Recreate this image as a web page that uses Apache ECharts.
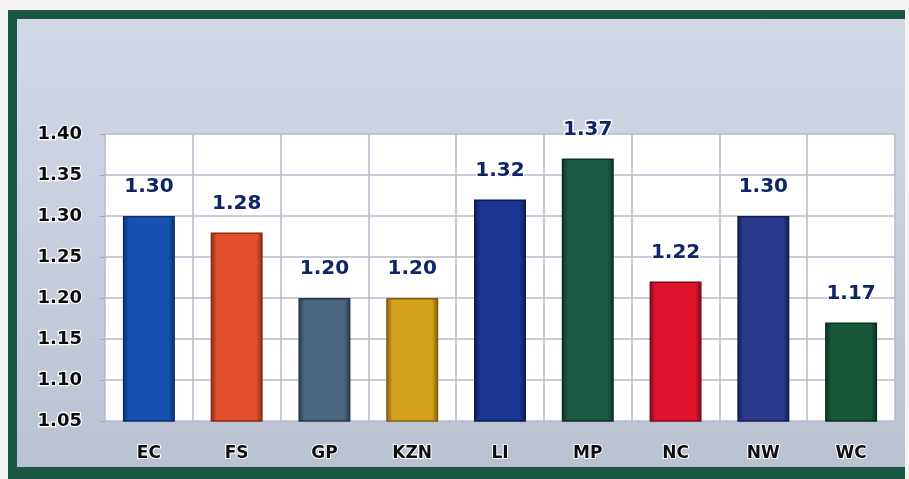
<!DOCTYPE html>
<html>
<head>
<meta charset="utf-8">
<script src="https://cdn.jsdelivr.net/npm/echarts@6/dist/echarts.min.js"></script>
<style>
  html, body { margin: 0; padding: 0; background: #f4f4f2; }
  #frame {
    position: absolute; left: 8px; top: 10px; width: 888px; height: 448px;
    border-left: 9px solid #1b5743; border-top: 9px solid #1b5743; border-bottom: 12px solid #1b5743;
    background: linear-gradient(180deg, #d3d8e6 0%, #c9cfdf 45%, #bac2d2 100%);
  }
  #chart { position: absolute; left: 0; top: 0; width: 909px; height: 479px; }
</style>
</head>
<body>
<div id="frame"></div>
<div id="chart"></div>
<script>
// Provinces and their values
const categories = ['EC', 'FS', 'GP', 'KZN', 'LI', 'MP', 'NC', 'NW', 'WC'];
const values = [1.30, 1.28, 1.20, 1.20, 1.32, 1.37, 1.22, 1.30, 1.17];
const barColors = ['#1652b2', '#e24f2b', '#4b6782', '#d3a11e', '#1b3592', '#1d5a46', '#e0142e', '#2b3a8c', '#16573a'];
const barEdges = ['#0c2f6e', '#8a2a14', '#26384a', '#7d5e0c', '#0c1c55', '#0c3024', '#7e0a18', '#141d52', '#0a3020'];
const yTicks = [1.05, 1.10, 1.15, 1.20, 1.25, 1.30, 1.35, 1.40];

const chart = echarts.init(document.getElementById('chart'), null, { renderer: 'canvas' });

const data = values.map((v, i) => ({
  value: v,
  itemStyle: {
    color: {
      type: 'linear', x: 0, y: 0, x2: 1, y2: 0,
      colorStops: [
        { offset: 0, color: barEdges[i] },
        { offset: 0.12, color: barColors[i] },
        { offset: 0.88, color: barColors[i] },
        { offset: 1, color: barEdges[i] }
      ]
    },
    borderColor: barEdges[i],
    borderWidth: 1.5
  }
}));

chart.setOption({
  backgroundColor: 'transparent',
  animation: false,
  grid: {
    left: 105, right: 14, top: 134, bottom: 58,
    show: true, backgroundColor: '#ffffff', borderWidth: 0
  },
  xAxis: {
    type: 'category',
    data: categories,
    axisLine: { show: false },
    axisTick: { show: false },
    splitLine: { show: true, lineStyle: { color: '#b9b9cc', width: 1.5 } },
    axisLabel: {
      margin: 24,
      color: '#0e0e0e',
      fontFamily: 'DejaVu Sans',
      fontWeight: 'bold',
      fontSize: 17,
      textBorderColor: '#ffffff',
      textBorderWidth: 2
    }
  },
  yAxis: {
    type: 'value',
    min: 1.05,
    max: 1.40,
    interval: 0.05,
    axisLine: { show: false },
    axisTick: { show: true, length: 5, lineStyle: { color: '#a9a9bd' } },
    splitLine: { show: true, lineStyle: { color: '#b9b9cc', width: 1.5 } },
    axisLabel: {
      margin: 23,
      color: '#0a0a0a',
      fontFamily: 'DejaVu Sans',
      fontWeight: 'bold',
      fontSize: 18,
      textBorderColor: '#ffffff',
      textBorderWidth: 2.5,
      formatter: v => {
        const hit = yTicks.find(t => Math.abs(t - v) < 1e-6);
        return hit !== undefined ? hit.toFixed(2) : '';
      }
    }
  },
  series: [{
    type: 'bar',
    data: data,
    barWidth: 52,
    label: {
      show: true,
      position: 'top',
      distance: 19,
      color: '#102566',
      fontFamily: 'DejaVu Sans',
      fontWeight: 'bold',
      fontSize: 20,
      textBorderColor: '#ffffff',
      textBorderWidth: 3,
      formatter: p => p.value.toFixed(2)
    }
  }]
});
</script>
</body>
</html>
